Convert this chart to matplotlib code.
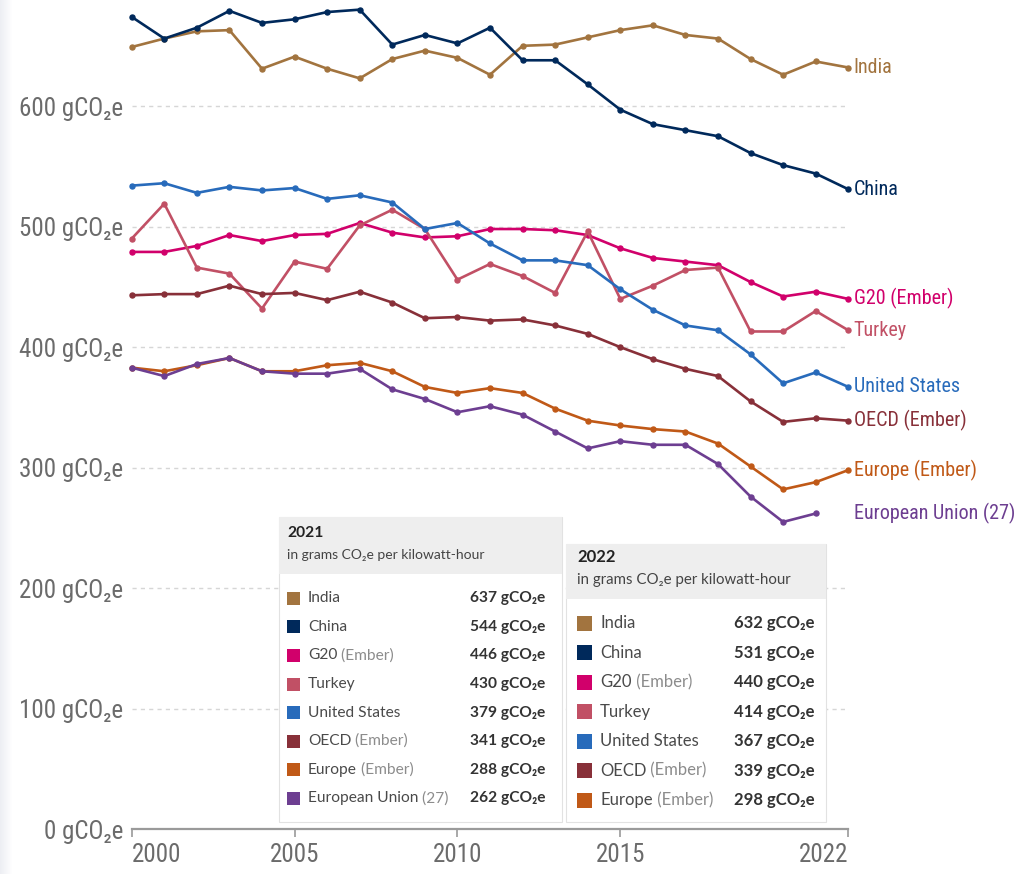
import matplotlib
matplotlib.use("Agg")
import matplotlib.pyplot as plt
from matplotlib import font_manager as fm
from matplotlib.patches import Rectangle
from matplotlib.text import Annotation
import numpy as np

# carbon intensity of electricity, gCO2e per kWh
years = list(range(2000, 2023))

india  = [649, 656, 662, 663, 631, 641, 631, 623, 639, 646, 640, 626, 650, 651, 657, 663, 667, 659, 656, 639, 626, 637, 632]
china  = [674, 656, 665, 679, 669, 672, 678, 680, 651, 659, 652, 665, 638, 638, 618, 597, 585, 580, 575, 561, 551, 544, 531]
g20    = [479, 479, 484, 493, 488, 493, 494, 503, 495, 491, 492, 498, 498, 497, 493, 482, 474, 471, 468, 454, 442, 446, 440]
turkey = [490, 519, 466, 461, 432, 471, 465, 501, 514, 498, 456, 469, 459, 445, 496, 440, 451, 464, 466, 413, 413, 430, 414]
usa    = [534, 536, 528, 533, 530, 532, 523, 526, 520, 498, 503, 486, 472, 472, 468, 448, 431, 418, 414, 394, 370, 379, 367]
oecd   = [443, 444, 444, 451, 444, 445, 439, 446, 437, 424, 425, 422, 423, 418, 411, 400, 390, 382, 376, 355, 338, 341, 339]
europe = [383, 380, 385, 391, 380, 380, 385, 387, 380, 367, 362, 366, 362, 349, 339, 335, 332, 330, 320, 301, 282, 288, 298]
eu     = [383, 376, 386, 391, 380, 378, 378, 382, 365, 357, 346, 351, 344, 330, 316, 322, 319, 319, 303, 276, 255, 262, np.nan]

names = [("India", ""), ("China", ""), ("G20", " (Ember)"), ("Turkey", ""),
         ("United States", ""), ("OECD", " (Ember)"), ("Europe", " (Ember)"),
         ("European Union", " (27)")]
series = [india, china, g20, turkey, usa, oecd, europe, eu]
colors = ["#A2743F", "#00295B", "#D1006B", "#C15065", "#286BBB", "#883039", "#C05917", "#6D3E91"]

yticks = [0, 100, 200, 300, 400, 500, 600]
xticks = [2000, 2005, 2010, 2015, 2022]

# the axis labels use a narrow face; find one if there is any
avail = sorted({f.name for f in fm.fontManager.ttflist})
narrow = None
for c in ["Liberation Sans Narrow", "Roboto Condensed", "DejaVu Sans Condensed",
          "Open Sans Condensed", "Noto Sans Condensed", "Arial Narrow"]:
    if c in avail:
        narrow = c
        break
if narrow is None:
    for n in avail:
        if ("Narrow" in n or "Condensed" in n) and "Mono" not in n and "Serif" not in n:
            narrow = n
            break
if narrow is None:
    narrow = "Liberation Sans"
    big, lab = 15.5, 13
else:
    big, lab = 18, 14.5

COND = [narrow, "DejaVu Sans"]
LATO = ["Lato", "DejaVu Sans"]
plt.rcParams["font.family"] = COND

W, H = 1030, 874
fig = plt.figure(figsize=(W / 100, H / 100), dpi=100)
ax = fig.add_axes([131.7 / W, (H - 829.3) / H, (848.3 - 131.7) / W, 829.3 / H])


def fx(x):
    return x / W


def fy(y):
    return 1 - y / H


# faint shadow strip on the left edge of the screenshot
for i in range(12):
    fig.add_artist(Rectangle((fx(i), 0), fx(1), 1, transform=fig.transFigure,
                             facecolor="#e6e8ee", edgecolor="none", alpha=0.7 * (1 - i / 12)))

for vals, col in zip(series, colors):
    ax.plot(years, vals, color=col, lw=1.9, marker="o", ms=3.6, clip_on=False, zorder=3)

ax.set_xlim(2000, 2022)
ax.set_ylim(0, 688)
ax.set_yticks(yticks)
ax.set_yticklabels([f"{v} gCO₂e" for v in yticks])
ax.set_xticks(xticks)
ax.set_xticklabels([str(x) for x in xticks])
ax.yaxis.grid(True, color="#d6d6d6", ls=(0, (3, 3)), lw=1)
ax.set_axisbelow(True)
for s in ["left", "right", "top"]:
    ax.spines[s].set_visible(False)
ax.spines["bottom"].set_color("#9a9a9a")
ax.spines["bottom"].set_linewidth(1.6)
ax.tick_params(axis="y", length=0, pad=6, labelsize=big, labelcolor="#6b6b6b")
ax.tick_params(axis="x", length=6, width=1.2, color="#9a9a9a", pad=4, labelsize=big, labelcolor="#6b6b6b")
xl = ax.get_xticklabels()
xl[0].set_ha("left")
xl[-1].set_ha("right")

# line end labels
for (nm, sfx), vals, col in zip(names, series, colors):
    last = [v for v in vals if not np.isnan(v)][-1]
    ax.annotate(nm + sfx, xy=(2022, last), xytext=(4, 0), textcoords="offset points",
                va="center", ha="left", fontsize=lab, color=col, annotation_clip=False)


def tooltip(year, x0, x1, y0, yh, y1, row0, step, sq, lab_x, val_x, fs, hy, sy):
    idx = years.index(year)
    fig.add_artist(Rectangle((fx(x0), fy(y1)), fx(x1 - x0), fy(y0) - fy(y1),
                             transform=fig.transFigure, facecolor="white",
                             edgecolor="#e2e2e2", lw=0.8, zorder=5))
    fig.add_artist(Rectangle((fx(x0), fy(yh)), fx(x1 - x0), fy(y0) - fy(yh),
                             transform=fig.transFigure, facecolor="#eeeeee",
                             edgecolor="none", zorder=6))
    fig.text(fx(sq[0]), fy(hy), str(year), family=LATO,
             fontsize=fs, fontweight="bold", color="#222", va="center", zorder=7)
    fig.text(fx(sq[0]), fy(sy), "in grams CO₂e per kilowatt-hour",
             family=LATO, fontsize=fs - 1.2, color="#444", va="center", zorder=7)
    r = 0
    for (nm, sfx), vals, col in zip(names, series, colors):
        v = vals[idx]
        if np.isnan(v):
            continue
        yc = row0 + r * step
        fig.add_artist(Rectangle((fx(sq[0]), fy(yc + sq[1] / 2)), fx(sq[1]), sq[1] / H,
                                 transform=fig.transFigure, facecolor=col,
                                 edgecolor="none", zorder=7))
        t = fig.text(fx(lab_x), fy(yc), nm, family=LATO, fontsize=fs, color="#4a4a4a",
                     va="center", ha="left", zorder=7)
        if sfx:
            fig.add_artist(Annotation(sfx, xy=(1, 0), xycoords=t, va="bottom", ha="left",
                                      family=LATO, fontsize=fs, color="#8c8c8c",
                                      annotation_clip=False, zorder=7))
        fig.text(fx(val_x), fy(yc), f"{int(v)} gCO₂e", family=LATO, fontsize=fs,
                 fontweight="bold", color="#333", va="center", ha="right", zorder=7)
        r += 1


tooltip(2021, 279, 562, 517, 574, 822, 598.3, 28.57, (287, 13), 308, 545, 11.2, 533, 555)
tooltip(2022, 566, 826, 544, 599, 822, 623.3, 29.5, (577, 15), 600, 815, 12, 557, 580)

fig.savefig("out.png", dpi=100)
